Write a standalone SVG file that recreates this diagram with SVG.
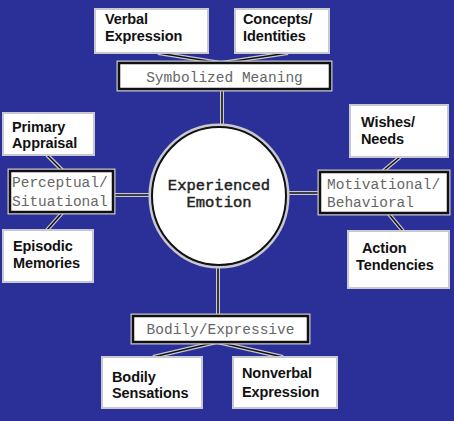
<svg xmlns="http://www.w3.org/2000/svg" width="454" height="421" viewBox="0 0 454 421">
<style>
.leaf{fill:#fff;stroke:#c8c8d0;stroke-width:2}
.cat{fill:#fff;stroke:#111;stroke-width:2.5}
.catHalo{fill:none;stroke:#c8c8d0;stroke-width:5}
.halo{stroke:#c8c8d0;stroke-width:4;fill:none}
.line{stroke:#111;stroke-width:1.6;fill:none}
.sans{font-family:"Liberation Sans",Arial,sans-serif;font-weight:bold;font-size:14.5px;fill:#111;letter-spacing:-0.1px}
.mono{font-family:"Liberation Mono","Courier New",monospace;font-size:14.5px;fill:#666}
.center{font-family:"Liberation Mono","Courier New",monospace;font-size:15.5px;fill:#222;stroke:#222;stroke-width:0.45}
</style>
<rect x="0" y="0" width="454" height="421" fill="#2b2f98"/>
<g id="connectors">
<g class="halo">
<line x1="158" y1="53" x2="221" y2="63"/><line x1="288" y1="53" x2="221" y2="63"/>
<line x1="222" y1="89" x2="222" y2="127"/>
<line x1="47" y1="155" x2="63" y2="171"/><line x1="47" y1="230" x2="63" y2="212"/>
<line x1="113" y1="195" x2="153" y2="195"/>
<line x1="400" y1="157" x2="382" y2="172"/><line x1="403" y1="231" x2="388" y2="213"/>
<line x1="286" y1="193" x2="320" y2="193"/>
<line x1="218" y1="265" x2="218" y2="316"/>
<line x1="217" y1="342" x2="153" y2="357"/><line x1="217" y1="342" x2="283" y2="357"/>
</g>
<g class="line">
<line x1="158" y1="53" x2="221" y2="63"/><line x1="288" y1="53" x2="221" y2="63"/>
<line x1="222" y1="89" x2="222" y2="127"/>
<line x1="47" y1="155" x2="63" y2="171"/><line x1="47" y1="230" x2="63" y2="212"/>
<line x1="113" y1="195" x2="153" y2="195"/>
<line x1="400" y1="157" x2="382" y2="172"/><line x1="403" y1="231" x2="388" y2="213"/>
<line x1="286" y1="193" x2="320" y2="193"/>
<line x1="218" y1="265" x2="218" y2="316"/>
<line x1="217" y1="342" x2="153" y2="357"/><line x1="217" y1="342" x2="283" y2="357"/>
</g>
</g>
<g id="experienced-emotion">
<ellipse cx="219" cy="196" rx="68" ry="70" fill="none" stroke="#c8c8d0" stroke-width="5"/>
<ellipse cx="219" cy="196" rx="67" ry="69" fill="#fff" stroke="#111" stroke-width="2"/>
<text class="center" x="219" y="190" text-anchor="middle">Experienced</text>
<text class="center" x="219" y="207" text-anchor="middle">Emotion</text>
</g>
<g id="symbolized-meaning">
<rect class="catHalo" x="119" y="63" width="211" height="26"/>
<rect class="cat" x="119" y="63" width="211" height="26"/>
<text class="mono" x="224.5" y="82" text-anchor="middle">Symbolized Meaning</text>
</g>
<g id="perceptual-situational">
<rect class="catHalo" x="10" y="171" width="103" height="41"/>
<rect class="cat" x="10" y="171" width="103" height="41"/>
<text class="mono" x="12" y="187">Perceptual/</text>
<text class="mono" x="12" y="206">Situational</text>
</g>
<g id="motivational-behavioral">
<rect class="catHalo" x="320" y="172" width="128" height="41"/>
<rect class="cat" x="320" y="172" width="128" height="41"/>
<text class="mono" x="327" y="189">Motivational/</text>
<text class="mono" x="327" y="207">Behavioral</text>
</g>
<g id="bodily-expressive">
<rect class="catHalo" x="133" y="316" width="175" height="26"/>
<rect class="cat" x="133" y="316" width="175" height="26"/>
<text class="mono" x="220.5" y="334" text-anchor="middle">Bodily/Expressive</text>
</g>
<g id="verbal-expression">
<rect class="leaf" x="95" y="9" width="113" height="44"/>
<text class="sans" x="105" y="24">Verbal</text>
<text class="sans" x="105" y="40.5">Expression</text>
</g>
<g id="concepts-identities">
<rect class="leaf" x="235" y="9" width="94" height="44"/>
<text class="sans" x="243" y="24">Concepts/</text>
<text class="sans" x="243" y="40.5">Identities</text>
</g>
<g id="primary-appraisal">
<rect class="leaf" x="3" y="113" width="91" height="42"/>
<text class="sans" x="12" y="131.5">Primary</text>
<text class="sans" x="12" y="148">Appraisal</text>
</g>
<g id="episodic-memories">
<rect class="leaf" x="3" y="230" width="90" height="52"/>
<text class="sans" x="13" y="251">Episodic</text>
<text class="sans" x="13" y="268">Memories</text>
</g>
<g id="wishes-needs">
<rect class="leaf" x="350" y="105" width="98" height="52"/>
<text class="sans" x="361" y="127">Wishes/</text>
<text class="sans" x="361" y="143.5">Needs</text>
</g>
<g id="action-tendencies">
<rect class="leaf" x="348" y="231" width="101" height="57"/>
<text class="sans" x="362" y="253">Action</text>
<text class="sans" x="356" y="270">Tendencies</text>
</g>
<g id="bodily-sensations">
<rect class="leaf" x="102" y="357" width="100" height="51"/>
<text class="sans" x="112" y="381.5">Bodily</text>
<text class="sans" x="112" y="398">Sensations</text>
</g>
<g id="nonverbal-expression">
<rect class="leaf" x="233" y="357" width="104" height="51"/>
<text class="sans" x="242" y="378">Nonverbal</text>
<text class="sans" x="242" y="397">Expression</text>
</g>
</svg>
